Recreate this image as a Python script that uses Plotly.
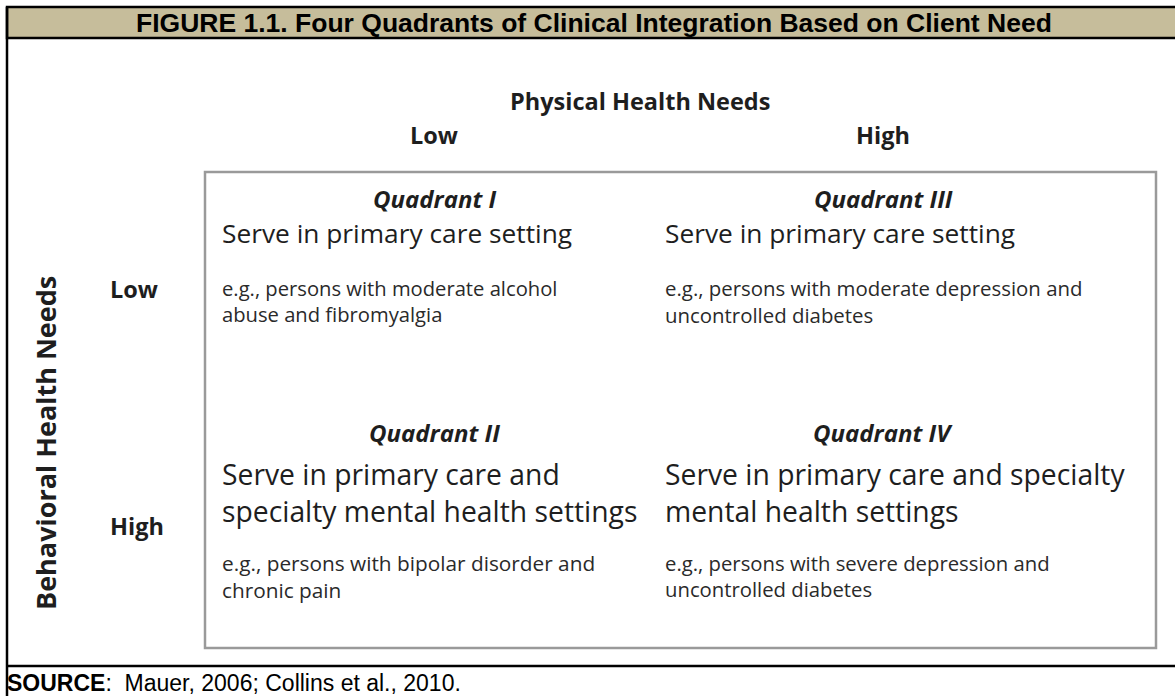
import plotly.graph_objects as go

W, H = 1175, 696

title_text = "FIGURE 1.1. Four Quadrants of Clinical Integration Based on Client Need"
source_bold = "SOURCE"
source_rest = ":  Mauer, 2006; Collins et al., 2010."
x_axis_title = "Physical Health Needs"
y_axis_title = "Behavioral Health Needs"
col_labels = ["Low", "High"]
row_labels = ["Low", "High"]
quadrant_names = ["Quadrant I", "Quadrant III", "Quadrant II", "Quadrant IV"]
serve_lines = [
    ["Serve in primary care setting"],
    ["Serve in primary care setting"],
    ["Serve in primary care and", "specialty mental health settings"],
    ["Serve in primary care and specialty", "mental health settings"],
]
example_lines = [
    ["e.g., persons with moderate alcohol", "abuse and fibromyalgia"],
    ["e.g., persons with moderate depression and", "uncontrolled diabetes"],
    ["e.g., persons with bipolar disorder and", "chronic pain"],
    ["e.g., persons with severe depression and", "uncontrolled diabetes"],
]

# layout geometry / styling (pixels)
col_center = [434, 883]
col_left = [220, 663]
row_label_y = [289, 526]
quad_name_y = [198, 432]
serve_y0 = [233, 477]
serve_mid2 = 492
ex_y0 = [288, 563]
serve_size = [26.3, 26.3, 28.3, 28.3]
ex_size = [20.2, 20.4, 20.8, 20.3]

FONT = "Open Sans, Calibri, sans-serif"
ARIAL = "Liberation Sans, Arial, sans-serif"
TXT = "#1e1e1e"

fig = go.Figure()
fig.add_trace(go.Scatter(x=[0], y=[0], mode="markers", marker=dict(opacity=0), hoverinfo="skip", showlegend=False))

shapes = []
shapes.append(dict(type="rect", x0=7, x1=1185, y0=7, y1=38, fillcolor="#c6bd9b",
                   line=dict(color="black", width=2.5), layer="below"))
shapes.append(dict(type="line", x0=7, x1=7, y0=7, y1=700, line=dict(color="black", width=2.5)))
shapes.append(dict(type="line", x0=7, x1=1185, y0=666, y1=666, line=dict(color="black", width=2.5)))
shapes.append(dict(type="rect", x0=205, x1=1156, y0=172, y1=648, line=dict(color="#9a9a9a", width=2.5)))

ann = []
def add(text, x, y, size, xanchor="center", font=FONT, color=TXT, angle=0, align="center"):
    ann.append(dict(text=text, x=x, y=y, xref="x", yref="y", showarrow=False, xanchor=xanchor,
                    yanchor="middle", textangle=angle, align=align,
                    font=dict(family=font, size=size, color=color)))

add("<b>" + title_text + "</b>", 594, 23, 26.5, font=ARIAL, color="black")
add("<b>" + source_bold + "</b>" + source_rest, 5, 683, 23, xanchor="left", font=ARIAL, color="black")
add("<b>" + x_axis_title + "</b>", 640, 101, 23.5)
for i, lab in enumerate(col_labels):
    add("<b>" + lab + "</b>", col_center[i], 135, 23.5)
for i, lab in enumerate(row_labels):
    add("<b>" + lab + "</b>", 108, row_label_y[i], 23.5, xanchor="left")
add("<b>" + y_axis_title + "</b>", 45, 443, 27, angle=-90)

for q in range(4):
    r, c = q // 2, q % 2
    add("<b><i>" + quadrant_names[q] + "</i></b>", col_center[c], quad_name_y[r], 24)
    sl = serve_lines[q]
    sy = serve_y0[r] if len(sl) == 1 else serve_mid2
    add("<br>".join(sl), col_left[c], sy, serve_size[q], xanchor="left", align="left")
    el = example_lines[q]
    ey = ex_y0[r] + (len(el) - 1) * 1.3 * ex_size[q] / 2
    add("<br>".join(el), col_left[c], ey, ex_size[q], xanchor="left", align="left", color="#2a2a2a")

fig.update_layout(
    width=W, height=H, margin=dict(l=0, r=0, t=0, b=0),
    paper_bgcolor="white", plot_bgcolor="white",
    xaxis=dict(range=[0, W], visible=False, fixedrange=True),
    yaxis=dict(range=[H, 0], visible=False, fixedrange=True),
    shapes=shapes, annotations=ann, showlegend=False,
)
fig.write_html("out.html", config={"displayModeBar": False},
               post_script="document.body.style.margin='0px';document.body.style.overflow='hidden';")
